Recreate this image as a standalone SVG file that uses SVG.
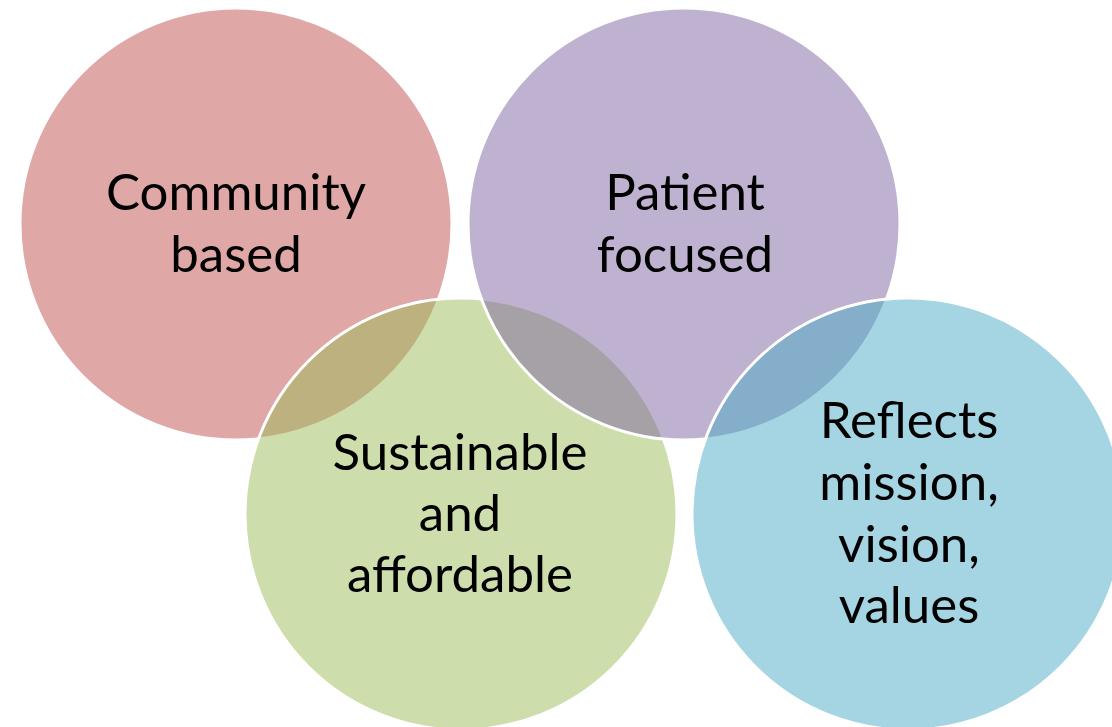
<svg xmlns="http://www.w3.org/2000/svg" width="1112" height="727" viewBox="0 0 1112 727">
  <style>
    .c { fill-opacity: 0.5; stroke: #ffffff; stroke-width: 3; }
    .t { font-family: Lato, "Open Sans", "Liberation Sans", sans-serif; font-size: 51px; fill: #000000; text-anchor: middle; }
  </style>
  <rect width="1112" height="727" fill="#ffffff"/>
  <g id="node-community">
    <circle class="c" cx="236" cy="224" r="216" fill="#C0504D"/>
  </g>
  <g id="node-sustainable">
    <circle class="c" cx="461" cy="514" r="216" fill="#9BBB59"/>
  </g>
  <g id="node-patient">
    <circle class="c" cx="684" cy="224" r="216" fill="#8064A2"/>
  </g>
  <g id="node-reflects">
    <circle class="c" cx="908" cy="514" r="216" fill="#4BACC6"/>
  </g>
  <g id="connectors"></g>
  <g id="labels">
    <text class="t" x="236" y="210">Community</text>
    <text class="t" x="236" y="272">based</text>
    <text class="t" x="685" y="210">Patient</text>
    <text class="t" x="685" y="272">focused</text>
    <text class="t" x="460" y="470">Sustainable</text>
    <text class="t" x="460" y="531">and</text>
    <text class="t" x="460" y="592">affordable</text>
    <text class="t" x="909" y="438">Reflects</text>
    <text class="t" x="909" y="500">mission,</text>
    <text class="t" x="909" y="562">vision,</text>
    <text class="t" x="909" y="623">values</text>
  </g>
</svg>
